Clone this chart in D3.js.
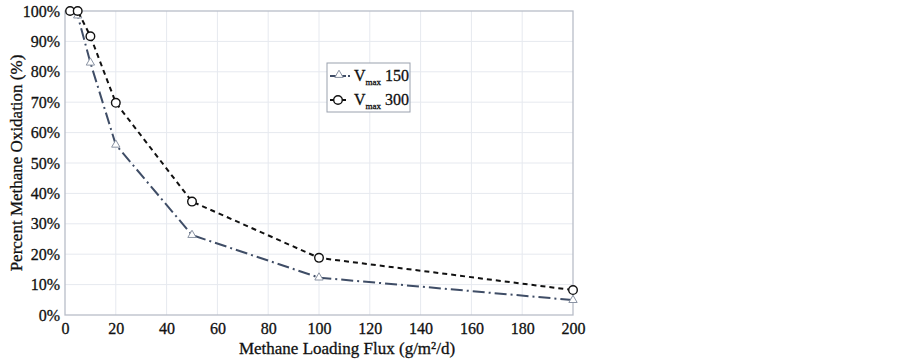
<!DOCTYPE html>
<html>
<head>
<meta charset="utf-8">
<script src="https://cdn.jsdelivr.net/npm/d3@7"></script>
<style>
  body { margin: 0; background: #fff; }
  text { font-family: "Liberation Serif", "Times New Roman", serif; fill: #111; stroke: #111; stroke-width: 0.3px; }
</style>
</head>
<body>
<svg width="902" height="363"></svg>
<script>
// loading flux (g/m2/d)
const flux = [2, 5, 10, 20, 50, 100, 200]
// percent oxidation
const vmax150 = [100, 98.5, 83, 56, 26.3, 12.3, 4.9]
const vmax300 = [100, 100, 91.7, 69.8, 37.3, 18.8, 8.2]
const xTicks = [0, 20, 40, 60, 80, 100, 120, 140, 160, 180, 200]
const yTicks = [0, 10, 20, 30, 40, 50, 60, 70, 80, 90, 100]

const svg = d3.select('svg')
const margin = {top: 11, left: 65, right: 329, bottom: 48}
const width = +svg.attr('width') - margin.left - margin.right
const height = +svg.attr('height') - margin.top - margin.bottom

const g = svg.append('g')
  .attr('transform', 'translate(' + margin.left + ',' + margin.top + ')')

const x = d3.scaleLinear().domain([0, 200]).range([0, width])
const y = d3.scaleLinear().domain([0, 100]).range([height, 0])

// grid
g.append('g').selectAll('line').data(xTicks.slice(1, -1)).enter().append('line')
  .attr('x1', d => x(d)).attr('x2', d => x(d))
  .attr('y1', 0).attr('y2', height)
  .attr('stroke', '#e6e9ef').attr('stroke-width', 1)
g.append('g').selectAll('line').data(yTicks.slice(1, -1)).enter().append('line')
  .attr('x1', 0).attr('x2', width)
  .attr('y1', d => y(d)).attr('y2', d => y(d))
  .attr('stroke', '#e6e9ef').attr('stroke-width', 1)

// frame
g.append('rect')
  .attr('x', 0).attr('y', 0).attr('width', width).attr('height', height)
  .attr('fill', 'none').attr('stroke', '#b8bdc8').attr('stroke-width', 1.3)

// axes
const xAxis = g.append('g')
  .attr('transform', 'translate(0,' + height + ')')
  .call(d3.axisBottom(x).tickValues(xTicks).tickSize(0).tickPadding(8))
xAxis.select('.domain').remove()
xAxis.selectAll('text').style('font-size', '16px').attr('fill', '#111')

const yAxis = g.append('g')
  .call(d3.axisLeft(y).tickValues(yTicks).tickSize(0).tickPadding(5).tickFormat(d => d + '%'))
yAxis.select('.domain').remove()
yAxis.selectAll('text').style('font-size', '16px').attr('fill', '#111')

// titles
svg.append('text')
  .attr('x', 347).attr('y', 354)
  .attr('text-anchor', 'middle').style('font-size', '17px')
  .text('Methane Loading Flux (g/m²/d)')
svg.append('text')
  .attr('transform', 'translate(22,163) rotate(-90)')
  .attr('text-anchor', 'middle').style('font-size', '17px')
  .text('Percent Methane Oxidation (%)')

const line = d3.line().x(d => x(d[0])).y(d => y(d[1]))
const pts150 = flux.map((f, i) => [f, vmax150[i]])
const pts300 = flux.map((f, i) => [f, vmax300[i]])

const triangle = d3.symbol().type(d3.symbolTriangle).size(30)

// Vmax 150
g.append('path').datum(pts150)
  .attr('d', line).attr('fill', 'none')
  .attr('stroke', '#3f4d66').attr('stroke-width', 2)
  .attr('stroke-dasharray', '12,4,2,4')
g.append('g').selectAll('path').data(pts150).enter().append('path')
  .attr('d', triangle)
  .attr('transform', d => 'translate(' + x(d[0]) + ',' + y(d[1]) + ')')
  .attr('fill', '#fff').attr('stroke', '#8a93a3').attr('stroke-width', 1)

// Vmax 300
g.append('path').datum(pts300)
  .attr('d', line).attr('fill', 'none')
  .attr('stroke', '#111').attr('stroke-width', 2)
  .attr('stroke-dasharray', '5,4')
g.append('g').selectAll('circle').data(pts300).enter().append('circle')
  .attr('cx', d => x(d[0])).attr('cy', d => y(d[1])).attr('r', 4.3)
  .attr('fill', '#fff').attr('stroke', '#111').attr('stroke-width', 1.4)

// legend
const legend = svg.append('g').attr('transform', 'translate(327,63)')
legend.append('rect')
  .attr('width', 83).attr('height', 49)
  .attr('fill', '#fff').attr('stroke', '#9aa1ae').attr('stroke-width', 1)

const entries = [
  {label: '150', color: '#3f4d66', mark: 'tri'},
  {label: '300', color: '#111', mark: 'circle'}
]
entries.forEach((e, i) => {
  const row = legend.append('g').attr('transform', 'translate(0,' + (13 + i * 24) + ')')
  row.append('line')
    .attr('x1', 3).attr('x2', 19).attr('y1', 0).attr('y2', 0)
    .attr('stroke', e.color).attr('stroke-width', 2)
  if (e.mark === 'tri') {
    row.append('line')
      .attr('x1', 21).attr('x2', 23).attr('y1', 0).attr('y2', 0)
      .attr('stroke', e.color).attr('stroke-width', 2)
    row.append('path').attr('d', triangle).attr('transform', 'translate(12,-1)')
      .attr('fill', '#fff').attr('stroke', '#8a93a3')
  } else {
    row.append('circle').attr('cx', 11).attr('cy', 0).attr('r', 4.3)
      .attr('fill', '#fff').attr('stroke', '#111').attr('stroke-width', 1.4)
  }
  const t = row.append('text').attr('x', 27).attr('y', 5).style('font-size', '16px')
  t.append('tspan').text('V')
  t.append('tspan').attr('dy', 4).style('font-size', '9px').text('max')
  t.append('tspan').attr('dy', -4).text(' ' + e.label)
})
</script>
</body>
</html>
